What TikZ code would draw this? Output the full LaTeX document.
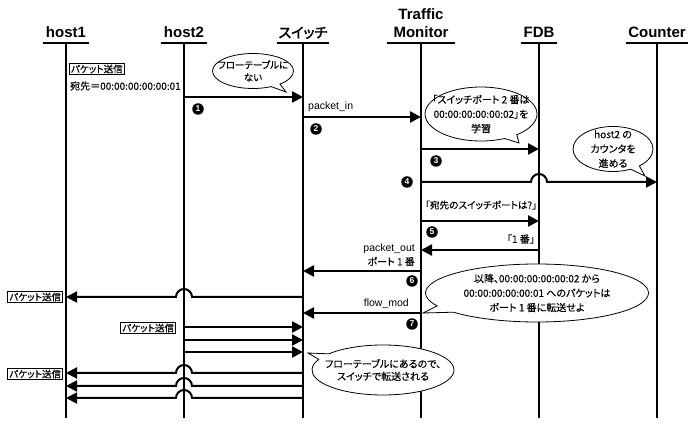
\documentclass[tikz,border=0pt]{standalone}
\usepackage{fontspec}
\setmainfont{Liberation Sans}
\newfontfamily\jp[FakeBold=0.4,RawFeature=+palt]{Noto Sans CJK JP}
\newfontfamily\jpb[FakeBold=2.5,RawFeature=+palt]{Noto Sans CJK JP}
\usetikzlibrary{arrows.meta,shapes.callouts,calc}
\tikzset{
  head/.style={anchor=south,align=center,text depth=0pt,inner xsep=3pt,inner ysep=5pt,font=\fontsize{15}{18}\selectfont\bfseries},
  life/.style={line width=2.5pt},
  msg/.style={line width=2.5pt,-{Triangle[length=11pt,width=11pt]}},
  thinmsg/.style={msg,line width=2pt},
  num/.style={circle,fill=black,text=white,inner sep=0pt,minimum size=11.5pt,font=\fontsize{8.5}{8.5}\selectfont\bfseries},
  tag/.style={draw,line width=1pt,inner xsep=1.5pt,inner ysep=1.5pt,font=\jp\fontsize{9.5}{10}\selectfont},
  lbl/.style={inner sep=1pt,font=\fontsize{10.5}{14}\selectfont},
  jlbl/.style={inner sep=1pt,font=\jp\fontsize{10}{12}\selectfont},
  say/.style={ellipse callout,draw,fill=white,line width=0.8pt,align=center,inner xsep=-40pt,inner ysep=-40pt,font=\jp\fontsize{10}{14.5}\selectfont}
}
\begin{document}
\begin{tikzpicture}[x=1pt,y=1pt]
\useasboundingbox (0,0) rectangle (696,-427);
% participants
\node[head] (h1) at (66,-43) {host1};
\node[head] (h2) at (184,-43) {host2};
\node[head,font=\jpb\fontsize{14}{18}\selectfont,inner xsep=1pt] (sw) at (303,-43) {スイッチ};
\node[head,inner xsep=6pt] (tm) at (421,-43) {Traffic\\Monitor};
\node[head,inner xsep=2pt] (fdb) at (539,-43) {FDB};
\node[head,inner xsep=2pt] (cnt) at (657,-43) {Counter};
\foreach \n in {h1,h2,sw,tm,fdb,cnt} {
  \draw[line width=1.5pt] (\n.south west) -- (\n.south east);
  \draw[life] (\n.south) -- (\n |- 0,-418); % lifeline
}
% 1: packet from host2
\node[tag,anchor=west] (t1) at (69,-69) {パケット送信};
\node[jlbl,anchor=west] (dst) at (69,-86) {宛先＝00:00:00:00:00:01};
\draw[msg] (h2 |- 0,-97) -- (sw |- 0,-97);
\node[num] (n1) at (198,-109) {1};
\node[say,font=\jp\fontsize{9.5}{12.5}\selectfont,minimum width=81pt,minimum height=35pt,callout absolute pointer={(286,-92)}] (b1) at (253,-71) {フローテーブルに\\ない};
% 2: packet_in
\node[lbl,anchor=west] (pin) at (307,-107) {packet\_in};
\draw[msg] (sw |- 0,-117) -- (tm |- 0,-117);
\node[num] (n2) at (316,-129) {2};
\node[say,minimum width=112pt,minimum height=54pt,callout absolute pointer={(519,-143)}] (b2) at (481,-114) {「スイッチポート 2 番は\\00:00:00:00:00:02」を\\学習};
% 3: learn in FDB
\draw[msg] (tm |- 0,-149) -- (fdb |- 0,-149);
\node[num] (n3) at (436,-161) {3};
% 4: counter
\node[say,minimum width=80pt,minimum height=45pt,callout absolute pointer={(645,-176)}] (b3) at (613,-149) {host2 の\\カウンタを\\進める};
\draw[thinmsg] (tm |- 0,-182) -- ($(fdb |- 0,-182)+(-8,0)$) arc[start angle=180,end angle=0,radius=8] -- (cnt |- 0,-182);
\node[num] (n4) at (407,-182) {4};
% 5: lookup
\node[jlbl,font=\jp\fontsize{9.6}{12}\selectfont,anchor=west] (ask) at (424,-205) {「宛先のスイッチポートは?」};
\draw[msg] (tm |- 0,-221) -- (fdb |- 0,-221);
\node[num] (n5) at (432,-232) {5};
\node[jlbl,anchor=east] (ans) at (536,-239) {「1 番」};
\draw[msg] (fdb |- 0,-250) -- (tm |- 0,-250);
% 6: packet_out
\node[lbl,align=right,anchor=east] (pout) at (416,-255) {packet\_out\\{\jp\fontsize{10}{14}\selectfont ポート 1 番}};
\draw[msg] (tm |- 0,-271) -- (sw |- 0,-271);
\node[num] (n6) at (412,-281) {6};
\draw[thinmsg] (sw |- 0,-297) -- ($(h2 |- 0,-297)+(8,0)$) arc[start angle=0,end angle=180,radius=8] -- (h1 |- 0,-297);
\node[tag,anchor=east] (t2) at (63,-297) {パケット送信};
% 7: flow_mod
\node[lbl,anchor=east] (fmod) at (410,-304) {flow\_mod};
\draw[msg] (tm |- 0,-313) -- (sw |- 0,-313);
\node[num] (n7) at (412,-324) {7};
\node[say,minimum width=223pt,minimum height=58pt,callout absolute pointer={(423,-313)}] (b4) at (537,-293) {以降、00:00:00:00:00:02 から\\00:00:00:00:00:01 へのパケットは\\ポート 1 番に転送せよ};
% later packets
\node[tag,anchor=east] (t3) at (176,-328) {パケット送信};
\foreach \y in {327,340,352}
  \draw[msg] (h2 |- 0,-\y) -- (sw |- 0,-\y);
\node[say,font=\jp\fontsize{10}{12.5}\selectfont,minimum width=142pt,minimum height=50pt,callout absolute pointer={(308,-353)}] (b5) at (383,-370) {フローテーブルにあるので、\\スイッチで転送される};
\foreach \y in {373,386,398}
  \draw[thinmsg] (sw |- 0,-\y) -- ($(h2 |- 0,-\y)+(8,0)$) arc[start angle=0,end angle=180,radius=8] -- (h1 |- 0,-\y);
\node[tag,anchor=east] (t4) at (63,-374) {パケット送信};
\end{tikzpicture}
\end{document}
